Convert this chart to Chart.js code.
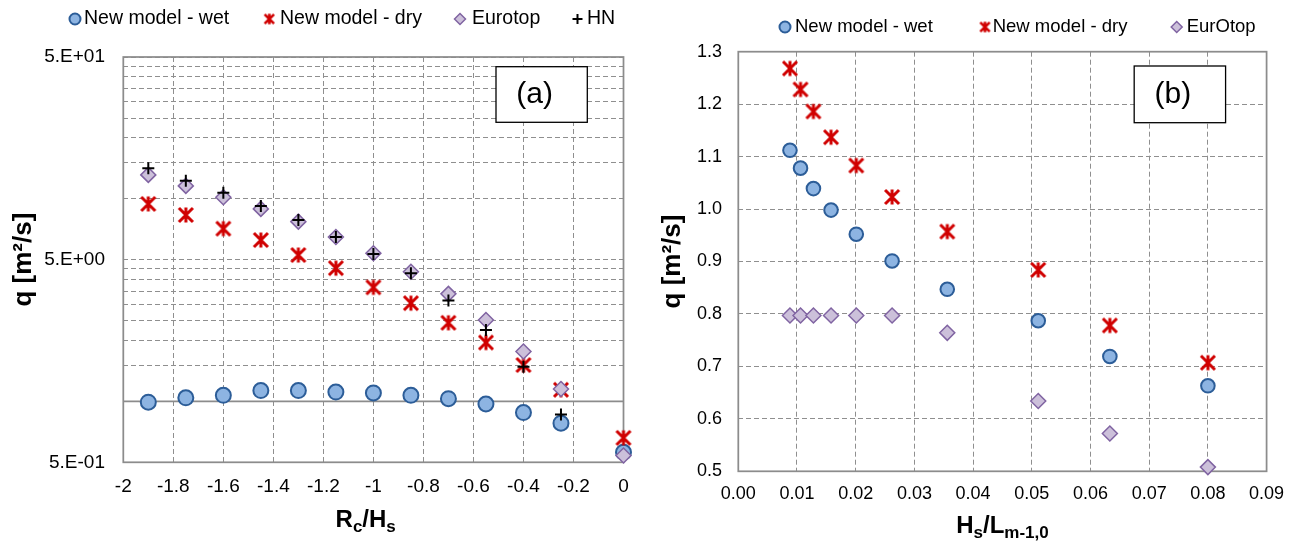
<!DOCTYPE html>
<html>
<head>
<meta charset="utf-8">
<script src="https://cdn.jsdelivr.net/npm/chart.js@4.4.1/dist/chart.umd.min.js"></script>
<style>
  body { margin: 0; background: #fff; width: 1296px; height: 545px; overflow: hidden; position: relative; }
  .panel { position: absolute; top: 0; width: 648px; height: 545px; }
  #panelA { left: 0; }
  #panelB { left: 648px; }
</style>
</head>
<body>
<div class="panel" id="panelA"><canvas id="chartA" width="648" height="545"></canvas></div>
<div class="panel" id="panelB"><canvas id="chartB" width="648" height="545"></canvas></div>
<script>
// (a) q against Rc/Hs, log axis
const rcHs = [-1.9, -1.75, -1.6, -1.45, -1.3, -1.15, -1.0, -0.85, -0.7, -0.55, -0.4, -0.25, 0];
const wetA = [0.99, 1.04, 1.07, 1.13, 1.13, 1.11, 1.10, 1.07, 1.03, 0.97, 0.88, 0.78, 0.56];
const dryA = [9.42, 8.31, 7.11, 6.25, 5.27, 4.54, 3.65, 3.05, 2.44, 1.95, 1.51, 1.14, 0.66];
const euroA = [13.1, 11.56, 10.16, 8.9, 7.7, 6.47, 5.38, 4.36, 3.39, 2.52, 1.76, 1.15, 0.54];
const hnA = [14.13, 12.27, 10.7, 9.2, 7.85, 6.47, 5.33, 4.28, 3.14, 2.25, 1.48, 0.86, null];
const qTicks = [0.5, 1, 1.5, 2, 2.5, 3, 3.5, 4, 4.5, 5, 10, 15, 20, 25, 30, 35, 40, 45, 50];
const qTickNames = {0.5: '5.E-01', 5: '5.E+00', 50: '5.E+01'};

// (b) q against Hs/Lm-1,0
const steep = [0.0088, 0.0106, 0.0128, 0.0158, 0.0201, 0.0262, 0.0356, 0.0511, 0.0633, 0.0800];
const wetB = [1.112, 1.078, 1.039, 0.998, 0.952, 0.901, 0.847, 0.787, 0.719, 0.663];
const dryB = [1.268, 1.228, 1.186, 1.137, 1.083, 1.023, 0.957, 0.884, 0.778, 0.707];
const euroB = [0.797, 0.797, 0.797, 0.797, 0.797, 0.797, 0.764, 0.634, 0.572, 0.508];

const FONT = '"Liberation Sans", Arial, sans-serif';
Chart.defaults.font.family = FONT;
Chart.defaults.color = '#000';

const GRID = '#8f8f8f';
const FRAME = '#8c8c8c';
const RED = '#d00000';

const pts = (xs, ys) => xs.map((x, i) => ({x: x, y: ys[i]})).filter(p => p.y !== null);

// excel style star marker (X with a vertical bar)
function starMark(size, lw) {
  const c = document.createElement('canvas');
  c.width = c.height = size;
  const g = c.getContext('2d');
  const m = size / 2, r = size / 2 - lw / 2 - 0.5;
  g.strokeStyle = RED;
  g.lineWidth = lw;
  g.beginPath();
  g.moveTo(m - r, m - r); g.lineTo(m + r, m + r);
  g.moveTo(m + r, m - r); g.lineTo(m - r, m + r);
  g.moveTo(m, m - r - 0.5); g.lineTo(m, m + r + 0.5);
  g.stroke();
  return c;
}
const star = starMark(18, 3);
const starKey = starMark(13, 2.6);

const frame = {
  id: 'frame',
  beforeDatasetsDraw(chart, args, o) {
    const {ctx, chartArea: a} = chart;
    ctx.save();
    ctx.strokeStyle = FRAME;
    ctx.lineWidth = 1.75;
    ctx.strokeRect(a.left, a.top, a.right - a.left, a.bottom - a.top);
    if (o.baseLine !== undefined) {
      const y = chart.scales.y.getPixelForValue(o.baseLine);
      ctx.beginPath();
      ctx.moveTo(a.left, y);
      ctx.lineTo(a.right, y);
      ctx.stroke();
    }
    ctx.restore();
  }
};

const keyRow = {
  id: 'keyRow',
  afterDraw(chart, args, o) {
    const ctx = chart.ctx;
    ctx.save();
    ctx.font = o.size + 'px ' + FONT;
    ctx.textBaseline = 'middle';
    ctx.textAlign = 'left';
    chart.data.datasets.forEach((ds, i) => {
      const mx = o.marks[i];
      if (ds.pointStyle instanceof HTMLCanvasElement) {
        ctx.drawImage(starKey, mx - 6.5, o.y - 6.5, 13, 13);
      } else {
        ctx.fillStyle = ds.pointBackgroundColor;
        ctx.strokeStyle = ds.pointBorderColor;
        ctx.lineWidth = ds.pointBorderWidth;
        Chart.helpers.drawPoint(ctx, {pointStyle: ds.pointStyle, radius: o.r[i], rotation: 0, borderWidth: ds.pointBorderWidth}, mx, o.y);
      }
      ctx.fillStyle = '#000';
      ctx.fillText(ds.label, o.texts[i], o.y);
    });
    ctx.restore();
  }
};

// x axis title with subscripts
const subTitle = {
  id: 'subTitle',
  afterDraw(chart, args, o) {
    const {ctx, chartArea: a} = chart;
    const big = 'bold 24px ' + FONT, small = 'bold 17px ' + FONT;
    ctx.save();
    let w = 0;
    o.parts.forEach(p => { ctx.font = p[1] ? small : big; w += ctx.measureText(p[0]).width; });
    let x = (a.left + a.right) / 2 - w / 2 + o.dx;
    const y = a.bottom + o.dy;
    ctx.fillStyle = '#000';
    ctx.textBaseline = 'alphabetic';
    ctx.textAlign = 'left';
    o.parts.forEach(p => {
      ctx.font = p[1] ? small : big;
      ctx.fillText(p[0], x, p[1] ? y + 5 : y);
      x += ctx.measureText(p[0]).width;
    });
    ctx.restore();
  }
};

const panelTag = {
  id: 'panelTag',
  afterDatasetsDraw(chart, args, o) {
    const {ctx, chartArea: a} = chart;
    const x = a.right - o.right - o.w, y = a.top + o.top;
    ctx.save();
    ctx.fillStyle = '#fff';
    ctx.fillRect(x, y, o.w, o.h);
    ctx.strokeStyle = '#000';
    ctx.lineWidth = 1.3;
    ctx.strokeRect(x, y, o.w, o.h);
    ctx.font = '30px ' + FONT;
    ctx.fillStyle = '#000';
    ctx.textAlign = 'center';
    ctx.textBaseline = 'middle';
    ctx.fillText(o.text, x + o.w / 2 - 7, y + o.h / 2);
    ctx.restore();
  }
};

const plugins = [frame, keyRow, subTitle, panelTag];

const chartA = new Chart(document.getElementById('chartA'), {
  type: 'scatter',
  data: {
    datasets: [
      {label: 'New model - wet', data: pts(rcHs, wetA), pointStyle: 'circle', pointRadius: 7.5,
        pointBackgroundColor: '#8db4e2', pointBorderColor: '#2c5d98', pointBorderWidth: 2, order: 4, clip: false},
      {label: 'New model - dry', data: pts(rcHs, dryA), pointStyle: star, pointRadius: 8, order: 3, clip: false},
      {label: 'Eurotop', data: pts(rcHs, euroA), pointStyle: 'rectRot', pointRadius: 7.5,
        pointBackgroundColor: '#ccc0da', pointBorderColor: '#8064a2', pointBorderWidth: 1.5, order: 2, clip: false},
      {label: 'HN', data: pts(rcHs, hnA), pointStyle: 'cross', pointRadius: 6,
        pointBackgroundColor: '#000', pointBorderColor: '#000', pointBorderWidth: 2, order: 1, clip: false}
    ]
  },
  options: {
    responsive: false,
    animation: false,
    events: [],
    layout: {padding: {left: 0, right: 24.5, top: 57, bottom: 42.7}},
    scales: {
      x: {
        type: 'linear', min: -2, max: 0,
        afterFit: s => { s.height = 40; },
        grid: {color: GRID, lineWidth: 1, drawTicks: false},
        border: {display: false, dash: [5, 3]},
        ticks: {stepSize: 0.2, padding: 13, font: {size: 19}, color: '#000',
          callback: v => String(+v.toFixed(1))}
      },
      y: {
        type: 'logarithmic', min: 0.5, max: 50,
        afterFit: s => { s.width = 123.3; },
        afterBuildTicks: s => { s.ticks = qTicks.map(v => ({value: v})); },
        grid: {color: GRID, lineWidth: 1, drawTicks: false},
        border: {display: false, dash: [5, 3]},
        ticks: {autoSkip: false, padding: 18.3, font: {size: 19}, color: '#000',
          callback: v => qTickNames[v] || ''},
        title: {display: true, text: 'q [m²/s]', font: {size: 26, weight: 'bold'}, color: '#000',
          padding: {top: 8.4, bottom: 0}}
      }
    },
    plugins: {
      legend: {display: false},
      tooltip: {enabled: false},
      frame: {baseLine: 1},
      keyRow: {size: 19.5, y: 19, marks: [75, 269.3, 460, 577.5], texts: [84, 280, 472, 587], r: [5.5, 6, 5.5, 5]},
      subTitle: {parts: [['R', 0], ['c', 1], ['/H', 0], ['s', 1]], dx: -7.7, dy: 64.4},
      panelTag: {text: '(a)', right: 36.2, w: 91.3, top: 9.7, h: 55.6}
    }
  },
  plugins: plugins
});

const chartB = new Chart(document.getElementById('chartB'), {
  type: 'scatter',
  data: {
    datasets: [
      {label: 'New model - wet', data: pts(steep, wetB), pointStyle: 'circle', pointRadius: 6.8,
        pointBackgroundColor: '#8db4e2', pointBorderColor: '#2c5d98', pointBorderWidth: 2, order: 3, clip: false},
      {label: 'New model - dry', data: pts(steep, dryB), pointStyle: star, pointRadius: 8, order: 2, clip: false},
      {label: 'EurOtop', data: pts(steep, euroB), pointStyle: 'rectRot', pointRadius: 7.5,
        pointBackgroundColor: '#ccc0da', pointBorderColor: '#8064a2', pointBorderWidth: 1.5, order: 1, clip: false}
    ]
  },
  options: {
    responsive: false,
    animation: false,
    events: [],
    layout: {padding: {left: 0, right: 29.3, top: 51.7, bottom: 33.7}},
    scales: {
      x: {
        type: 'linear', min: 0, max: 0.09,
        afterFit: s => { s.height = 40; },
        grid: {color: GRID, lineWidth: 1, drawTicks: false},
        border: {display: false, dash: [5, 3]},
        ticks: {stepSize: 0.01, padding: 11.9, font: {size: 18}, color: '#000',
          callback: v => v.toFixed(2)}
      },
      y: {
        type: 'linear', min: 0.5, max: 1.3,
        afterFit: s => { s.width = 90.3; },
        grid: {color: GRID, lineWidth: 1, drawTicks: false},
        border: {display: false, dash: [5, 3]},
        ticks: {stepSize: 0.1, padding: 16.3, font: {size: 18}, color: '#000',
          callback: v => v.toFixed(1)},
        title: {display: true, text: 'q [m²/s]', font: {size: 26, weight: 'bold'}, color: '#000',
          padding: {top: 9.7, bottom: 0}}
      }
    },
    plugins: {
      legend: {display: false},
      tooltip: {enabled: false},
      frame: {},
      keyRow: {size: 18.5, y: 27, marks: [137, 337, 528.7], texts: [147, 344.7, 538.7], r: [5.5, 6, 5.5]},
      subTitle: {parts: [['H', 0], ['s', 1], ['/L', 0], ['m-1,0', 1]], dx: 0, dy: 62},
      panelTag: {text: '(b)', right: 41, w: 91.4, top: 14.3, h: 56.7}
    }
  },
  plugins: plugins
});
</script>
</body>
</html>
